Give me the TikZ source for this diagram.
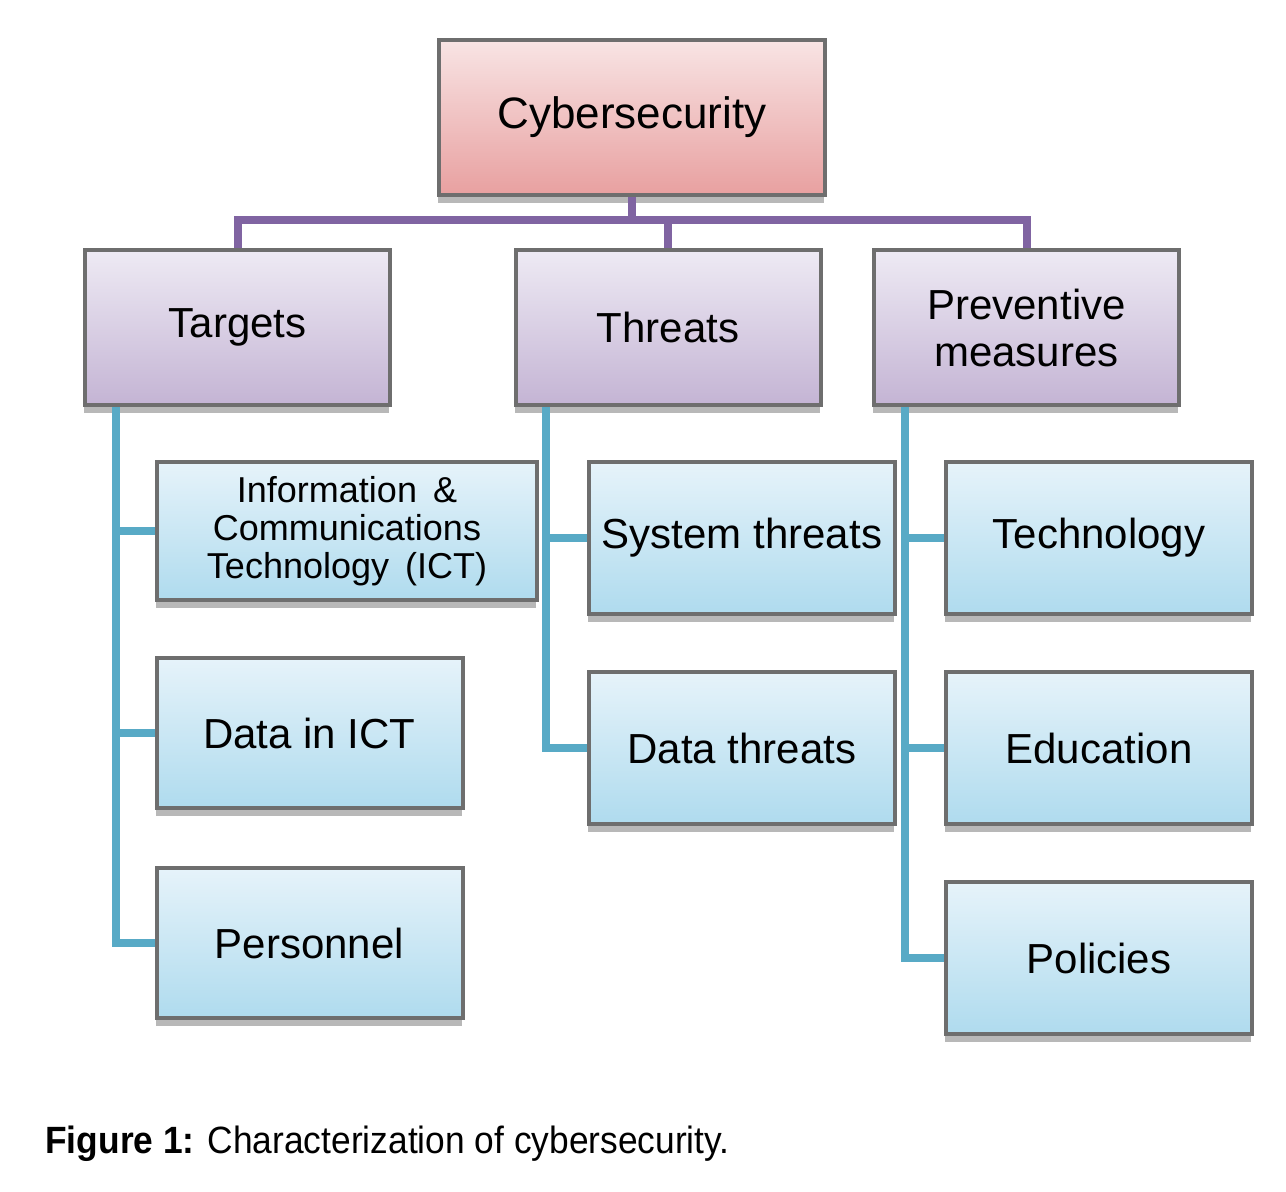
\documentclass[tikz,border=0pt]{standalone}
\usepackage{fontspec}
\setmainfont{Liberation Sans}
\newfontfamily\capfont[FakeStretch=0.93]{Liberation Sans}
\usetikzlibrary{shadows}
\definecolor{bordc}{RGB}{110,110,110}
\definecolor{purpc}{RGB}{128,100,162}
\definecolor{tealc}{RGB}{88,170,198}
\definecolor{redtop}{RGB}{248,228,228}
\definecolor{redbot}{RGB}{232,160,160}
\definecolor{lavtop}{RGB}{238,234,244}
\definecolor{lavbot}{RGB}{196,180,212}
\definecolor{blutop}{RGB}{230,243,250}
\definecolor{blubot}{RGB}{175,219,238}
\tikzset{
  basebox/.style={draw=bordc, line width=2pt, inner sep=2pt, align=center,
    drop shadow={shadow xshift=-0.5pt, shadow yshift=-4pt, fill=black, opacity=0.28}},
  redbox/.style={basebox, top color=redtop, bottom color=redbot, minimum width=193pt, minimum height=77.5pt, font=\fontsize{22pt}{26pt}\selectfont},
  lavbox/.style={basebox, top color=lavtop, bottom color=lavbot, minimum width=152.5pt, minimum height=77.5pt, font=\fontsize{21pt}{23.5pt}\selectfont},
  blubox/.style={basebox, top color=blutop, bottom color=blubot, minimum width=153pt, minimum height=76pt, font=\fontsize{21pt}{24pt}\selectfont},
  purpline/.style={draw=purpc, line width=4pt},
  tealline/.style={draw=tealc, line width=4pt},
}
\begin{document}
\begin{tikzpicture}[x=0.5pt,y=-0.5pt]
\useasboundingbox (0,0) rectangle (1286,1192);
% top
\node[redbox] (cyber) at (632,117.5) {Cybersecurity};
% level 2
\node[lavbox] (targets) at (237.5,327.5) {Targets};
\node[lavbox] (threats) at (668,327.5) {Threats};
\node[lavbox] (prev) at (1026.5,327.5) {Preventive\\measures};
% connectors level 1
\draw[purpline] (targets.north) -- ++(0,14pt) coordinate (hl) -| (prev.north);
\draw[purpline] (cyber.south) -- (cyber.south |- hl);
\draw[purpline] (threats.north) -- (threats.north |- hl);
% children
\node[blubox, minimum width=190pt, minimum height=69pt, font=\fontsize{18pt}{19pt}\selectfont] (ict) at (347,531) {Information \,\&\\Communications\\Technology \,(ICT)};
\node[blubox, minimum height=75pt] (dict) at (309.5,733) {Data in ICT};
\node[blubox, minimum height=75pt] (pers) at (309.5,943) {Personnel};
\node[blubox] (syst) at (742,538) {System threats};
\node[blubox] (datat) at (742,748) {Data threats};
\node[blubox] (tech) at (1099,538) {Technology};
\node[blubox] (edu) at (1099,748) {Education};
\node[blubox] (pol) at (1099,958) {Policies};
% teal connectors
\coordinate (tv) at ([xshift=16.5pt]targets.south west);
\draw[tealline] (tv) |- (pers.west);
\draw[tealline] (tv |- ict.west) -- (ict.west);
\draw[tealline] (tv |- dict.west) -- (dict.west);
\coordinate (thv) at ([xshift=16pt]threats.south west);
\draw[tealline] (thv) |- (datat.west);
\draw[tealline] (thv |- syst.west) -- (syst.west);
\coordinate (pv) at ([xshift=16.5pt]prev.south west);
\draw[tealline] (pv) |- (pol.west);
\draw[tealline] (pv |- tech.west) -- (tech.west);
\draw[tealline] (pv |- edu.west) -- (edu.west);
% caption
\node[anchor=base west, inner sep=0pt, font=\capfont\fontsize{19pt}{22pt}\selectfont] (cap) at (45,1153) {\textbf{Figure 1:} Characterization of cybersecurity.};
\end{tikzpicture}
\end{document}
